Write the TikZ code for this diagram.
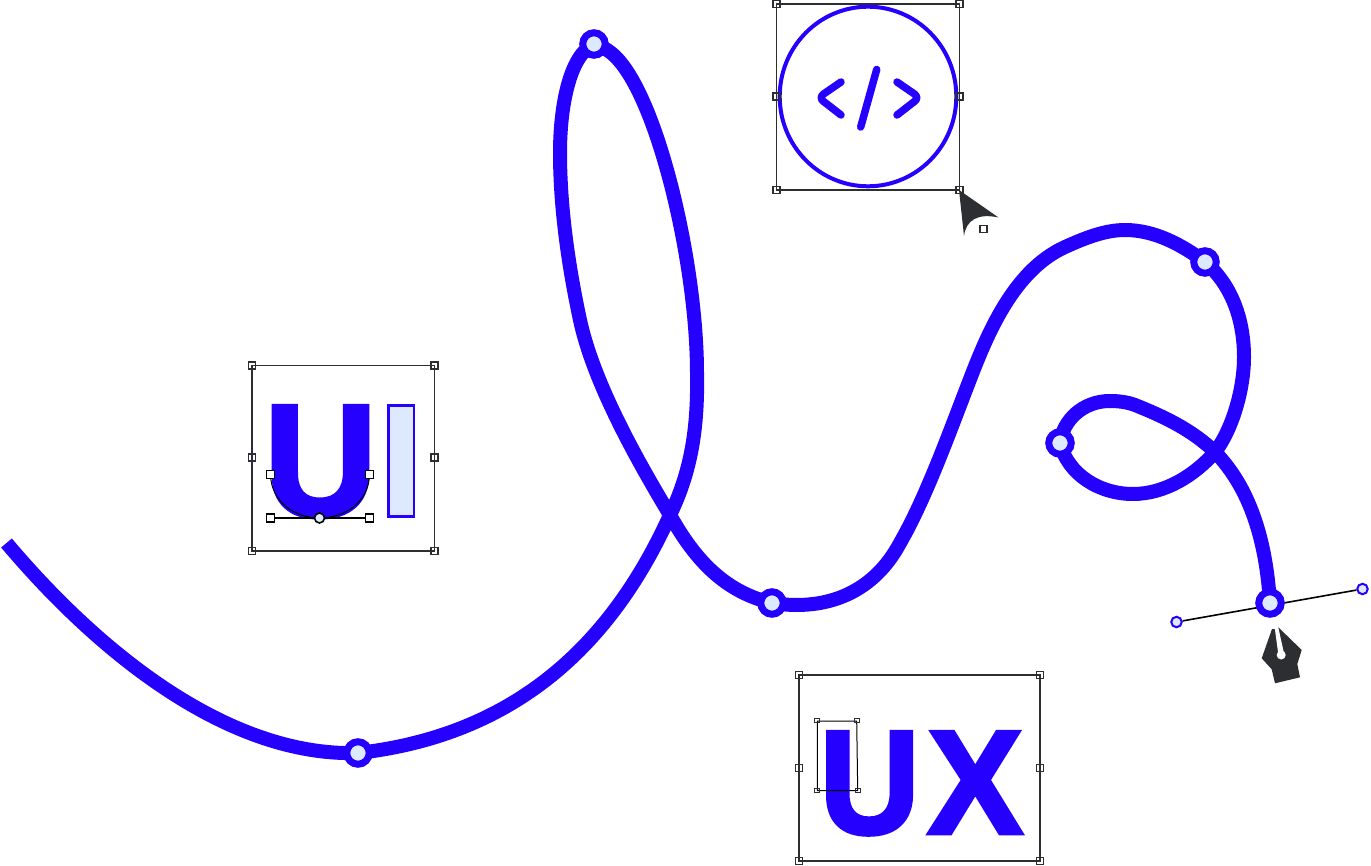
\documentclass[tikz,border=0pt]{standalone}
\usepackage{fontspec}
\setmainfont{Liberation Sans}
\newfontfamily\heavyfont[FakeBold=2.5]{Liberation Sans Bold}
\definecolor{bl}{HTML}{2600FF}
\definecolor{lt}{HTML}{DCE9FF}
\definecolor{dk}{HTML}{2D2E32}
\tikzset{
 hnd/.style={draw=dk,line width=1.2pt,minimum size=7pt,inner sep=0pt,shape=rectangle},
 wh/.style={hnd,draw=black,fill=white,minimum size=8pt},
 tiny/.style={hnd,minimum size=4.5pt,line width=1pt},
 frm/.style={draw=dk,line width=1.2pt},
 anch/.style={circle,draw=bl,fill=lt,line width=7pt,minimum size=22.5pt,inner sep=0pt},
 ctl/.style={circle,draw=bl,fill=lt,line width=2pt,minimum size=10.5pt,inner sep=0pt},
 curveline/.style={draw=bl,line width=14pt},
 icon/.style={draw=bl,line width=7.5pt,line cap=round,line join=round},
 letter/.style={inner sep=0pt,outer sep=0pt,text=bl}
}
\begin{document}
\begin{tikzpicture}[x=1pt,y=-1pt]
\useasboundingbox (0,0) rectangle (1371,866);
\fill[white] (0,0) rectangle (1371,866);
% coordinates
\coordinate (s) at (6.5,543);
\coordinate (a1) at (358,753);
\coordinate (a2) at (594,44);
\coordinate (a3) at (772,603);
\coordinate (a4) at (1205,262);
\coordinate (a5) at (1060,443);
\coordinate (a6) at (1270,603);
\coordinate (x) at (670,515);
\coordinate (y) at (1215,452);
% curve
\draw[curveline]
 (s) .. controls (95,648) and (225,757) .. (a1)
 .. controls (490,738) and (600,670) .. (x)
 .. controls (692,470) and (698,425) .. (697,373)
 .. controls (697,260) and (655,85) .. (610,52)
 .. controls (605,48) and (600,46) .. (a2)
 .. controls (570,55) and (560,105) .. (560,153)
 .. controls (560,195) and (565,250) .. (580,320)
 .. controls (594,385) and (640,465) .. (x)
 .. controls (695,560) and (725,592) .. (a3)
 .. controls (830,612) and (875,590) .. (900,543)
 .. controls (925,500) and (950,431) .. (967,387)
 .. controls (984,343) and (1010,272) .. (1065,247)
 .. controls (1085,238) and (1105,230) .. (1125,230)
 .. controls (1155,230) and (1182,245) .. (a4)
 .. controls (1232,285) and (1244,320) .. (1244,357)
 .. controls (1244,390) and (1232,430) .. (y)
 .. controls (1195,475) and (1165,494) .. (1133,494)
 .. controls (1100,494) and (1068,475) .. (a5)
 .. controls (1063,420) and (1083,401) .. (1110,401)
 .. controls (1118,401) and (1127,402) .. (1135,405)
 .. controls (1165,417) and (1192,430) .. (y)
 .. controls (1250,488) and (1266,540) .. (a6);
% handle bar
\node[ctl] (c1) at (1176.5,622) {};
\node[ctl] (c2) at (1362.5,589) {};
\draw[black,line width=1.6pt] (c1) -- (c2);
% anchors
\foreach \n in {a1,a2,a3,a4,a5,a6} \node[anch] at (\n) {};
% code frame
\draw[frm] (776.5,4) rectangle (959.5,190);
\draw[bl,line width=4pt] (868,96.5) ellipse [x radius=88.3,y radius=89.8];
\foreach \p in {(776.5,4),(959.5,4),(776.5,96.5),(959.5,96.5),(776.5,190),(959.5,190)} \node[hnd] at \p {};
\draw[icon,rounded corners=6pt] (841,82) -- (818.5,97.5) -- (841,115);
\draw[icon,rounded corners=6pt] (897,82) -- (919.5,97.5) -- (897,115);
\draw[icon] (876.7,69.5) -- (860.7,127);
% cursor
\fill[dk] (959,190) -- (998.5,217.5) .. controls (978,213) and (966,220) .. (964,236) -- cycle;
\node[hnd,fill=white] (cs) at (983.5,229) {};
% UI
\draw[frm] (252,365.5) rectangle (434.5,551);
\foreach \p in {(252,365.5),(434.5,365.5),(252,457.5),(434.5,457.5),(252,551),(434.5,551)} \node[hnd] at \p {};
\node[letter,anchor=base west,font=\heavyfont\fontsize{160}{160}\selectfont,xscale=.975,transform shape] (lu) at (264.2,516) {U};
\draw[bl,fill=lt,line width=2.5pt] (388.5,405.5) rectangle (414,516.5);
\draw[black,line width=1pt] (270.5,474.5) .. controls (271,502) and (295,518) .. (319.5,518) .. controls (345,518) and (369,502) .. (369.5,474.5);
\node[wh] (h1) at (270.5,474.5) {};
\node[wh] (h2) at (369.5,474.5) {};
\node[wh] (h3) at (270.5,518) {};
\node[wh] (h4) at (369.5,518) {};
\draw[black,line width=1.4pt] (h3) -- (h4);
\node[circle,draw=black,fill=lt,line width=1.6pt,minimum size=10pt,inner sep=0pt] (h5) at (319.5,518) {};
% UX
\draw[frm] (799,675) rectangle (1040,861);
\foreach \p in {(799,675),(1040,675),(799,768),(1040,768),(799,861),(1040,861)} \node[hnd] at \p {};
\node[letter,anchor=base west,font=\heavyfont\fontsize{148}{148}\selectfont,xscale=.94,transform shape] (lx) at (819.4,833.5) {U\kern8pt\scalebox{1.03}[1]{X}};
\draw[black,line width=1pt] (817.3,721) -- (856.7,721) -- (857.7,790.7) -- (817.3,790.7) -- cycle;
\foreach \p in {(817,720.5),(857,720.5),(817,790.5),(858,790.5)} \node[tiny] at \p {};
% pen
\fill[dk] (1272,629) -- (1274.5,629) -- (1278.3,627.3) -- (1301.7,650) -- (1297.3,664) -- (1300,677.3) -- (1275,683.3) -- (1271.7,669.3) -- (1261.7,658.3) -- cycle;
\fill[white] (1274.6,627) -- (1278.2,627) -- (1283.7,652) -- (1278,652) -- cycle;
\fill[white] (1281.2,655) circle (4.5);
\end{tikzpicture}
\end{document}
